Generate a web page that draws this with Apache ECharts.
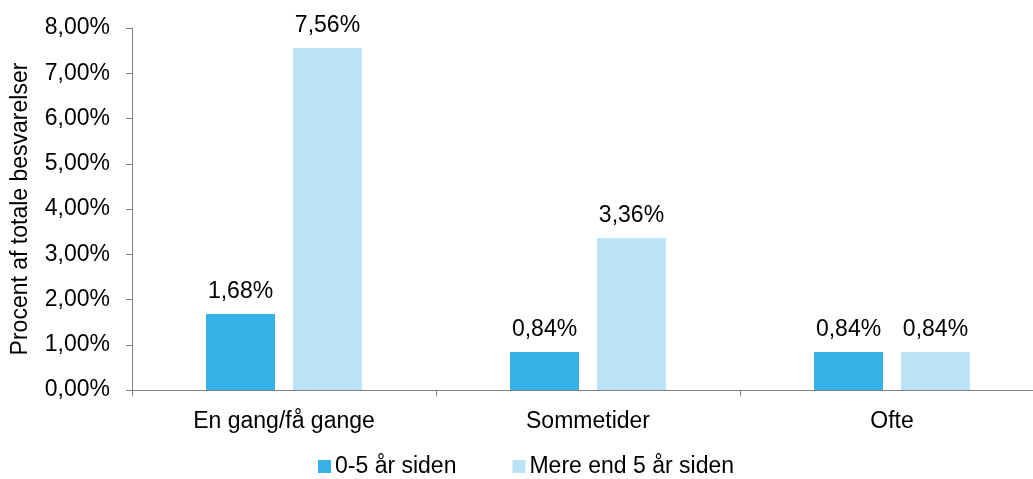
<!DOCTYPE html>
<html><head><meta charset="utf-8">
<script src="https://cdn.jsdelivr.net/npm/echarts@6/dist/echarts.min.js"></script>
<style>html,body{margin:0;padding:0;background:#fff}#c{width:1033px;height:479px}</style>
</head><body><div id="c"></div>
<script>
const categories = ["En gang/få gange", "Sommetider", "Ofte"];
const seriesNames = ["0-5 år siden", "Mere end 5 år siden"];
const recent = [1.68, 0.84, 0.84];
const older = [7.56, 3.36, 0.84];
const yAxisTitle = "Procent af totale besvarelser";

const fmt = v => v.toFixed(2).replace('.', ',') + '%';
const font = 'Liberation Sans, Arial, sans-serif';
const chart = echarts.init(document.getElementById('c'));
chart.setOption({
  animation: false,
  textStyle: {fontFamily: font},
  grid: {left: 132, top: 28, width: 912, height: 362, containLabel: false, outerBoundsMode: 'none'},
  legend: {
    top: 455, left: 318, itemWidth: 13, itemHeight: 13, itemGap: 56,
    icon: 'rect', padding: 0,
    textStyle: {fontSize: 23, color: '#000', fontFamily: font, padding: [0,0,0,-1]},
    data: seriesNames
  },
  xAxis: {
    type: 'category', data: categories,
    axisLine: {lineStyle: {color: '#808080', width: 1}},
    axisTick: {show: true, length: 6, lineStyle: {color: '#808080'}},
    axisLabel: {fontSize: 23, color: '#000', margin: 20, fontFamily: font}
  },
  yAxis: {
    type: 'value', min: 0, max: 8, interval: 1,
    name: yAxisTitle, nameLocation: 'middle', nameGap: 100, nameRotate: 90,
    nameTextStyle: {fontSize: 23, color: '#000', fontFamily: font},
    axisLine: {show: true, lineStyle: {color: '#808080', width: 1}},
    axisTick: {show: true, length: 6, lineStyle: {color: '#808080'}},
    splitLine: {show: false},
    axisLabel: {fontSize: 23, color: '#000', margin: 22, formatter: v => fmt(v), fontFamily: font}
  },
  series: [
    {name: seriesNames[0], type: 'bar', data: recent, barWidth: 69, barGap: '26%',
     itemStyle: {color: '#37B1E7'},
     label: {show: true, position: 'top', distance: 11, fontSize: 23, color: '#000', fontFamily: font, formatter: p => fmt(p.value)}},
    {name: seriesNames[1], type: 'bar', data: older, barWidth: 69,
     itemStyle: {color: '#BAE3F6'},
     label: {show: true, position: 'top', distance: 11, fontSize: 23, color: '#000', fontFamily: font, formatter: p => fmt(p.value)}}
  ]
});
</script></body></html>
